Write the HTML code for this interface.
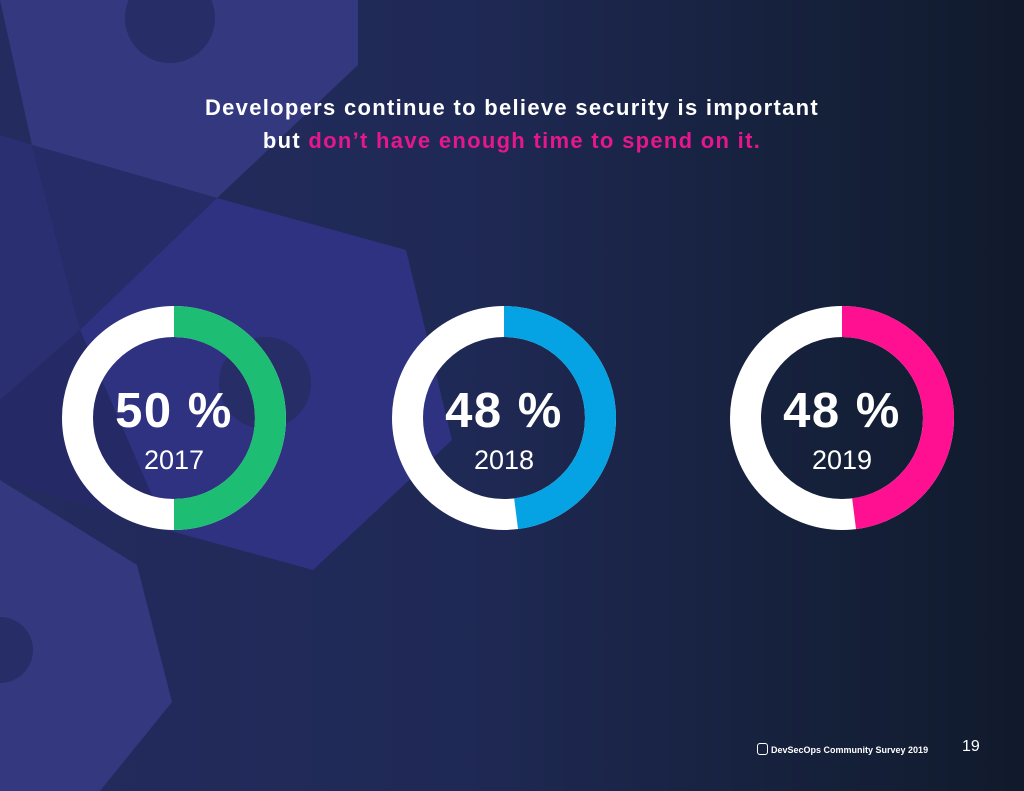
<!DOCTYPE html>
<html><head><meta charset="utf-8"><style>
html,body{margin:0;padding:0;width:1024px;height:791px;overflow:hidden;}
body{background:linear-gradient(90deg,#242b5f 0%,#1f2955 45%,#15203a 80%,#111a2c 100%);font-family:"Liberation Sans",sans-serif;}
svg{position:absolute;left:0;top:0;}
</style></head><body>
<svg width="1024" height="791">
<g>
<polygon points="0,0 358,0 358,65 217,198 32,145" fill="#33387f"/>
<circle cx="170" cy="18" r="45" fill="#272d66"/>
<polygon points="0,135 32,145 80,330 0,400" fill="#2a2f72"/>
<polygon points="32,145 217,198 80,330" fill="#262c68"/>
<polygon points="217,198 406,250 452,440 313,570 167,530 80,330" fill="#2e3280"/>
<circle cx="265" cy="383" r="46" fill="#272d66"/>
<polygon points="0,400 80,330 167,530 0,480" fill="#252a66"/>
<polygon points="0,480 137,565 172,702 100,791 0,791" fill="#33387f"/>
<circle cx="0" cy="650" r="33" fill="#272d66"/>
</g>
<g id="donuts"></g>
</svg>
<div style="position:absolute;left:0;top:91px;width:1024px;text-align:center;color:#fff;font-weight:bold;font-size:22px;letter-spacing:1.3px;line-height:33px;">Developers continue to believe security is important<br>but <span style="color:#e6168c">don’t have enough time to spend on it.</span></div>
<div style="position:absolute;left:757px;top:743px;color:#fff;font-size:9px;font-weight:bold;">
<span style="display:inline-block;width:9px;height:10px;border:1.5px solid #fff;border-radius:3px;vertical-align:-2px;margin-right:3px;"></span>DevSecOps Community Survey 2019</div>
<div style="position:absolute;left:962px;top:738px;color:#fff;font-size:16px;">19</div>
<script>
const years=["2017","2018","2019"];
const values=[50,48,48];
const colors=["#1dbd74","#05a3e3","#ff1090"];
const cxs=[174,504,842];
const cy=418,rMid=96.5,sw=31;
const g=document.getElementById('donuts');
const NS="http://www.w3.org/2000/svg";
function pt(frac){const a=frac*2*Math.PI-Math.PI/2;return [Math.cos(a)*rMid,Math.sin(a)*rMid];}
years.forEach((y,i)=>{
 const cx=cxs[i];
 const grp=document.createElementNS(NS,'g');
 
 
 const c=document.createElementNS(NS,'circle');
 c.setAttribute('cx',cx);c.setAttribute('cy',cy);c.setAttribute('r',rMid);
 c.setAttribute('fill','none');c.setAttribute('stroke','#fff');c.setAttribute('stroke-width',sw);
 
 
 grp.appendChild(c);
 const f=values[i]/100;const [x1,y1]=pt(0),[x2,y2]=pt(f);
 const p=document.createElementNS(NS,'path');
 p.setAttribute('d',`M${cx+x1},${cy+y1} A${rMid},${rMid} 0 ${f>0.5?1:0} 1 ${cx+x2},${cy+y2}`);
 p.setAttribute('fill','none');p.setAttribute('stroke',colors[i]);p.setAttribute('stroke-width',sw);
 
 
 grp.appendChild(p);
 const t=document.createElementNS(NS,'text');
 t.setAttribute('x',cx);t.setAttribute('y',cy+9);t.setAttribute('text-anchor','middle');
 t.setAttribute('fill','#fff');t.setAttribute('font-size','49');t.setAttribute('font-weight','bold');
 t.setAttribute('letter-spacing','1.5');
 t.setAttribute('font-family','Liberation Sans, sans-serif');
 t.textContent=values[i]+' %';
 
 
 grp.appendChild(t);
 const t2=document.createElementNS(NS,'text');
 t2.setAttribute('x',cx);t2.setAttribute('y',cy+51);t2.setAttribute('text-anchor','middle');
 t2.setAttribute('fill','#fff');t2.setAttribute('font-size','27');
 t2.setAttribute('font-family','Liberation Sans, sans-serif');
 t2.textContent=y;
 
 
 grp.appendChild(t2);
 g.appendChild(grp);
});
</script>
</body></html>
